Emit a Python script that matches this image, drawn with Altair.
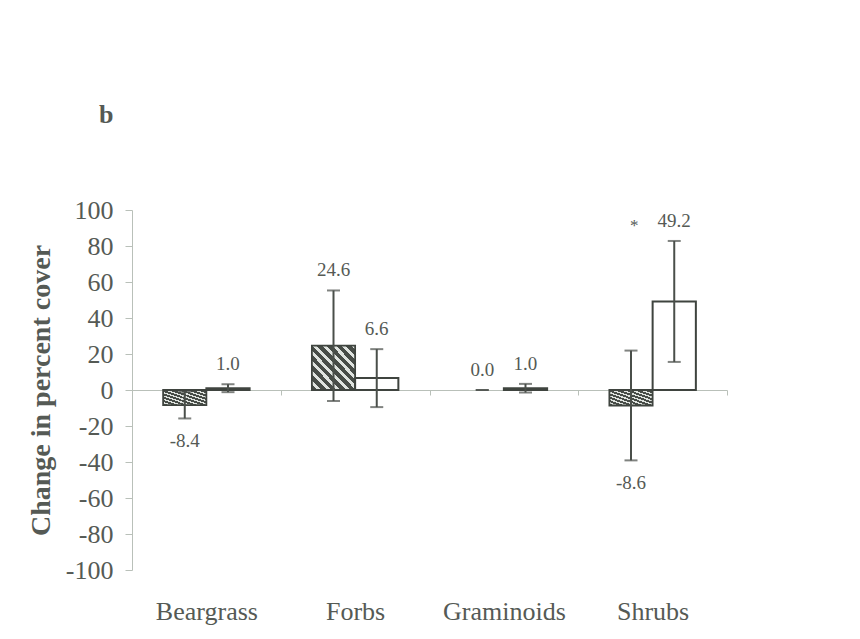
import altair as alt
import pandas as pd

categories = ["Beargrass", "Forbs", "Graminoids", "Shrubs"]
series_names = ["hatched", "open"]
hatched_mean = [-8.4, 24.6, 0.0, -8.6]
hatched_err = [7.4, 30.7, 0.0, 30.5]
open_mean = [1.0, 6.6, 1.0, 49.2]
open_err = [2.2, 16.1, 2.4, 33.6]
open_sig = ["", "", "", "*"]
hatched_sig = ["", "", "", ""]
y_ticks = [-100, -80, -60, -40, -20, 0, 20, 40, 60, 80, 100]

rows = []
for i, c in enumerate(categories):
    rows.append(dict(cat=c, series="hatched", mean=hatched_mean[i], err=hatched_err[i], sig=hatched_sig[i]))
    rows.append(dict(cat=c, series="open", mean=open_mean[i], err=open_err[i], sig=open_sig[i]))
df = pd.DataFrame(rows)
df["lo"] = df["mean"] - df["err"]
df["hi"] = df["mean"] + df["err"]
df["label"] = df["mean"].map(lambda v: f"{v:.1f}")

TXT = "#555a55"
AX = "#b9c0b9"
DARK = "#474c47"
LIGHT = "#dfe3df"
FONT = "Liberation Serif"

N = 9
stops = []
for k in range(N):
    a, b, c = k / N, (k + 0.58) / N, (k + 1) / N
    stops += [alt.GradientStop(offset=a, color=DARK), alt.GradientStop(offset=b, color=DARK),
              alt.GradientStop(offset=b, color=LIGHT), alt.GradientStop(offset=c, color=LIGHT)]
hatch = alt.LinearGradient(gradient="linear", stops=stops, x1=0, y1=1, x2=1, y2=0)

x_enc = alt.X("cat:N", sort=categories, scale=alt.Scale(paddingInner=0, paddingOuter=0),
              axis=alt.Axis(title=None, offset=-180, tickBand="extent", tickSize=5, labelPadding=203,
                            labelAngle=0, labelFont=FONT, labelFontSize=26, labelColor=TXT,
                            domainColor=AX, tickColor=AX, domainWidth=1.2, grid=False))
xo_enc = alt.XOffset("series:N", sort=series_names,
                     scale=alt.Scale(domain=series_names, paddingOuter=0.72, paddingInner=0))
y_scale = alt.Scale(domain=[-100, 100], nice=False)
y_axis = alt.Axis(values=y_ticks, title="Change in percent cover", titleFont=FONT, titleFontSize=28,
                  titleFontWeight="bold", titleColor=TXT, labelFont=FONT, labelFontSize=26,
                  labelColor=TXT, tickSize=7, tickColor=AX, domainColor=AX, labelPadding=12,
                  titlePadding=10, grid=False, labelOverlap=False, labelExpr="'' + datum.value")


def Y(field):
    return alt.Y(field, scale=y_scale, axis=y_axis)


base = alt.Chart(df).encode(x=x_enc, xOffset=xo_enc)

bars_h = base.transform_filter("datum.series == 'hatched' && datum.mean != 0").mark_bar(
    fill=hatch, stroke="#3f443f", strokeWidth=1.8).encode(y=Y("mean:Q"))
bars_o = base.transform_filter("datum.series == 'open'").mark_bar(
    fill="white", stroke="#3f443f", strokeWidth=2).encode(y=Y("mean:Q"))
err_rule = base.mark_rule(color="#4a4f4a", strokeWidth=2).encode(y=Y("lo:Q"), y2="hi:Q")
caps = base.transform_fold(["lo", "hi"], as_=["end", "val"]).mark_tick(
    color="#4a4f4a", size=13, thickness=2).encode(y=Y("val:Q"))
lab_pos = base.transform_filter("datum.mean >= 0").mark_text(
    font=FONT, fontSize=19, color=TXT, baseline="alphabetic", dy=-14).encode(
    y=Y("hi:Q"), text="label:N")
lab_neg = base.transform_filter("datum.mean < 0").mark_text(
    font=FONT, fontSize=19, color=TXT, baseline="top", dy=14).encode(
    y=Y("lo:Q"), text="label:N")
star = base.transform_filter("datum.sig != ''").mark_text(
    font=FONT, fontSize=17, color=TXT, baseline="alphabetic", dy=-10, dx=-40).encode(
    y=Y("hi:Q"), text="sig:N")

chart = alt.layer(bars_h, bars_o, err_rule, caps, lab_pos, lab_neg, star).properties(
    width=595, height=360,
    autosize=alt.AutoSizeParams(type="none"),
    padding={"left": 124, "top": 202, "right": 125, "bottom": 61},
    title=alt.TitleParams("b", anchor="start", frame="group", dx=-33, offset=48, fontSize=26,
                          font=FONT, fontWeight="bold", color=TXT, baseline="alphabetic"),
    background="white",
).configure_view(stroke=None)

chart.save("out.html", embed_options={"renderer": "svg", "actions": False})
